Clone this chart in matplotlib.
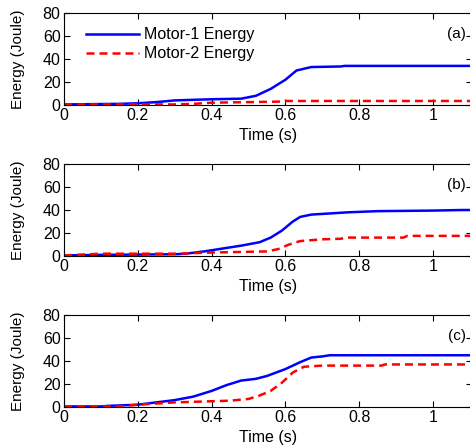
import numpy as np
import matplotlib

matplotlib.use('Agg')

import matplotlib.pyplot as plt

plt.rcParams['font.family'] = ['Liberation Sans', 'DejaVu Sans']
plt.rcParams['font.size'] = 11

# panel (a)
t_a1 = [0, 0.15, 0.2, 0.25, 0.3, 0.4, 0.48, 0.52, 0.56, 0.6, 0.63, 0.67, 0.75, 0.76, 1.1]
e_a1 = [0.5, 1, 1.5, 2.5, 4, 5, 5.5, 8, 14, 22, 30, 33, 33.5, 34, 34]
t_a2 = [0, 0.3, 0.35, 0.4, 0.5, 0.59, 0.6, 1.1]
e_a2 = [0.5, 0.5, 1, 2, 2.5, 3, 3.5, 3.5]

# panel (b)
t_b1 = [0, 0.1, 0.3, 0.33, 0.38, 0.42, 0.48, 0.53, 0.56, 0.59, 0.62, 0.64, 0.67,
        0.72, 0.77, 0.85, 1.0, 1.08, 1.1]
e_b1 = [0.5, 1, 1.5, 2, 4, 6, 9, 12, 16, 22, 30, 34, 36, 37, 38, 39, 39.5, 40, 40]
t_b2 = [0, 0.1, 0.3, 0.4, 0.55, 0.58, 0.61, 0.64, 0.7, 0.75, 0.77, 0.92, 0.93, 1.1]
e_b2 = [0.5, 2, 2, 3, 4, 6, 10, 13, 14.5, 15, 16, 16, 17.5, 17.5]

# panel (c)
t_c1 = [0, 0.1, 0.12, 0.2, 0.25, 0.3, 0.35, 0.4, 0.44, 0.48, 0.52, 0.55, 0.6,
        0.64, 0.67, 0.7, 0.72, 1.1]
e_c1 = [0.5, 0.5, 1, 2, 4, 6, 9, 14, 19, 23, 24.5, 27, 33, 39, 43, 44, 45, 45]
t_c2 = [0, 0.15, 0.2, 0.3, 0.35, 0.4, 0.45, 0.5, 0.53, 0.56, 0.59, 0.62, 0.65,
        0.7, 0.86, 0.87, 1.1]
e_c2 = [0.5, 0.5, 2, 4, 4.5, 5, 5.5, 7, 10, 14, 21, 30, 35, 36, 36, 37, 37]

panels = [
    ('(a)', t_a1, e_a1, t_a2, e_a2),
    ('(b)', t_b1, e_b1, t_b2, e_b2),
    ('(c)', t_c1, e_c1, t_c2, e_c2),
]

W, H = 470, 448
fig = plt.figure(figsize=(W / 100., H / 100.), dpi=100)

# axes boxes in pixels: left, top, bottom
boxes = [(64, 13, 105), (64, 164, 256), (64, 315, 407)]
x_right = 1.1

for (tag, t1, e1, t2, e2), (left, top, bottom) in zip(panels, boxes):
    ax_w = W + 2 - left
    ax = fig.add_axes([left / W, 1 - bottom / H, ax_w / W,
                       (bottom - top) / H])
    ax.plot(t1, e1, color='#0000ff', lw=1.8, label='Motor-1 Energy')
    ax.plot(t2, e2, color='#ff0000', lw=1.8, ls=(0, (3.2, 2)),
            label='Motor-2 Energy')
    ax.set_xlim(0, x_right * ax_w / (W - left))
    ax.set_ylim(0, 80)
    ax.set_xticks([0, 0.2, 0.4, 0.6, 0.8, 1])
    ax.set_xticklabels(['0', '0.2', '0.4', '0.6', '0.8', '1'])
    ax.set_yticks([0, 20, 40, 60, 80])
    ax.tick_params(direction='in', top=True, right=True, length=4,
                   labelsize=11.5, pad=2.5)
    ax.set_xlabel('Time (s)', fontsize=11.5, labelpad=3)
    ax.set_ylabel('Energy (Joule)', fontsize=11)
    ax.yaxis.set_label_coords((25 - left) / ax_w, 0.5)
    ax.text(0.985, 0.77, tag, transform=ax.transAxes, ha='right',
            va='center', fontsize=11)
    if tag == '(a)':
        ax.legend(loc='upper left', frameon=False, fontsize=11.5,
                  handlelength=3.3, handletextpad=0.35, borderaxespad=0.2,
                  bbox_to_anchor=(0.03, 0.95), labelspacing=0.25)

fig.savefig('out.png', dpi=100)
